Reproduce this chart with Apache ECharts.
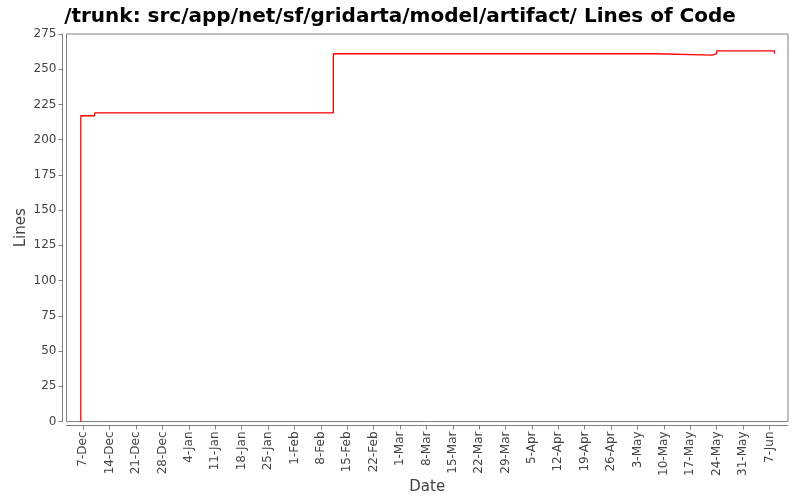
<!DOCTYPE html>
<html>
<head>
<meta charset="utf-8">
<script src="https://cdn.jsdelivr.net/npm/echarts@6/dist/echarts.min.js"></script>
<style>
  html, body { margin: 0; padding: 0; background: #fff; }
  #chart { width: 800px; height: 500px; }
</style>
</head>
<body>
<div id="chart"></div>
<script>
// lines of code over time (step chart)
const dates = [
  "2008-12-06 08:00", "2008-12-06 08:00", "2008-12-10 00:00", "2009-02-11 08:00",
  "2009-05-08 00:00", "2009-05-22 20:00", "2009-05-24 00:00", "2009-06-08 08:00",
];
const lines = [0, 217, 219, 261, 260, 261, 263, 261];

// weekly tick labels on the date axis
const tickDates = [
  "2008-12-07", "2008-12-14", "2008-12-21", "2008-12-28", "2009-01-04", "2009-01-11",
  "2009-01-18", "2009-01-25", "2009-02-01", "2009-02-08", "2009-02-15", "2009-02-22",
  "2009-03-01", "2009-03-08", "2009-03-15", "2009-03-22", "2009-03-29", "2009-04-05",
  "2009-04-12", "2009-04-19", "2009-04-26", "2009-05-03", "2009-05-10", "2009-05-17",
  "2009-05-24", "2009-05-31", "2009-06-07",
];
const months = ["Jan", "Feb", "Mar", "Apr", "May", "Jun", "Jul", "Aug", "Sep", "Oct", "Nov", "Dec"];

const DAY = 86400000;
const base = Date.UTC(2008, 11, 7);
// days since 7-Dec-2008
function toDay(s) {
  let p = s.split(/[- :]/).map(Number);
  return (Date.UTC(p[0], p[1] - 1, p[2], p[3] || 0, p[4] || 0) - base) / DAY;
}
function dayLabel(v) {
  let d = new Date(base + Math.round(v) * DAY);
  return d.getUTCDate() + "-" + months[d.getUTCMonth()];
}

let chart = echarts.init(document.getElementById("chart"));
let tickValues = tickDates.map(toDay);
let option = {
  animation: false,
  title: {
    text: "/trunk: src/app/net/sf/gridarta/model/artifact/ Lines of Code",
    left: "center",
    top: 2,
    textStyle: { fontFamily: "DejaVu Sans", fontWeight: "bold", fontSize: 20, color: "#000" },
  },
  grid: {
    left: 66.5,
    right: 12,
    top: 34,
    bottom: 78.5,
    outerBoundsMode: "none",
    containLabel: false,
    show: true,
    borderColor: "#808080",
    borderWidth: 1,
    backgroundColor: "#fff",
  },
  xAxis: {
    type: "value",
    min: toDay("2008-12-02 13:00"),
    max: toDay("2009-06-11 22:00"),
    offset: 4,
    name: "Date",
    nameLocation: "middle",
    nameGap: 54,
    nameMoveOverlap: false,
    nameTextStyle: { fontFamily: "DejaVu Sans", fontSize: 15, color: "#444" },
    axisLine: { show: true, onZero: false, lineStyle: { color: "#808080" } },
    axisTick: { show: true, length: 4, customValues: tickValues, lineStyle: { color: "#808080" } },
    axisLabel: {
      customValues: tickValues,
      rotate: 90,
      margin: 6,
      fontFamily: "DejaVu Sans",
      fontSize: 12,
      color: "#444",
      formatter: dayLabel,
    },
    splitLine: { show: false },
  },
  yAxis: {
    type: "value",
    min: 0,
    max: 275,
    interval: 25,
    offset: 4,
    name: "Lines",
    nameLocation: "middle",
    nameGap: 34,
    nameMoveOverlap: false,
    nameTextStyle: { fontFamily: "DejaVu Sans", fontSize: 15, color: "#444" },
    axisLine: { show: true, onZero: false, lineStyle: { color: "#808080" } },
    axisTick: { show: true, length: 4, lineStyle: { color: "#808080" } },
    axisLabel: { margin: 6, fontFamily: "DejaVu Sans", fontSize: 12, color: "#444" },
    splitLine: { show: false },
  },
  series: [
    {
      type: "line",
      step: "end",
      symbol: "none",
      data: dates.map((d, i) => [toDay(d), lines[i]]),
      lineStyle: { color: "#ff0000", width: 1.3 },
    },
  ],
};
chart.setOption(option);
</script>
</body>
</html>
